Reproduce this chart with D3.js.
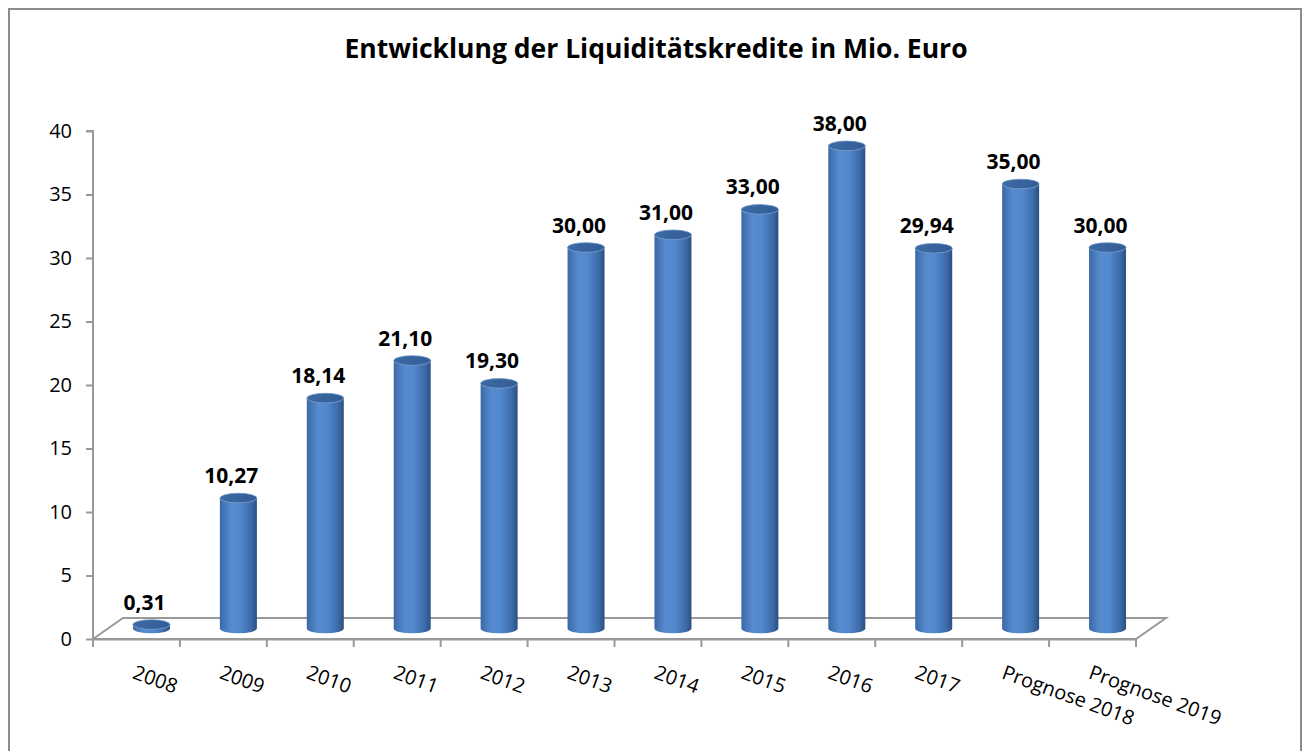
<!DOCTYPE html>
<html>
<head>
<meta charset="utf-8">
<script src="https://cdn.jsdelivr.net/npm/d3@7"></script>
<style>
  body { margin: 0; background: #fff; }
  svg { display: block; }
</style>
</head>
<body>
<div id="chart"></div>
<script>
// data
var categories = ["2008", "2009", "2010", "2011", "2012", "2013", "2014", "2015", "2016", "2017", "Prognose 2018", "Prognose 2019"];
var values = [0.31, 10.27, 18.14, 21.10, 19.30, 30.00, 31.00, 33.00, 38.00, 29.94, 35.00, 30.00];
var yTicks = [0, 5, 10, 15, 20, 25, 30, 35, 40];
var title = "Entwicklung der Liquiditätskredite in Mio. Euro";

var width = 1303;
var height = 751;

// 3d floor offset (depth of the floor)
var depthX = 30;
var depthY = -21;

var de = d3.formatLocale({ decimal: ",", thousands: ".", grouping: [3], currency: ["", " €"] });
var fmt = de.format(".2f");

var svg = d3.select("#chart")
  .append("svg")
  .attr("width", width)
  .attr("height", height);

// gradient for the cylinders
var defs = svg.append("defs");
var grad = defs.append("linearGradient")
  .attr("id", "cyl")
  .attr("x1", "0%").attr("x2", "100%")
  .attr("y1", "0%").attr("y2", "0%");
grad.append("stop").attr("offset", "0%").attr("stop-color", "#3b69a6");
grad.append("stop").attr("offset", "30%").attr("stop-color", "#578bd0");
grad.append("stop").attr("offset", "55%").attr("stop-color", "#5288cd");
grad.append("stop").attr("offset", "85%").attr("stop-color", "#3c6aa8");
grad.append("stop").attr("offset", "100%").attr("stop-color", "#2b4f80");

var topGrad = defs.append("linearGradient")
  .attr("id", "cyltop")
  .attr("x1", "0%").attr("x2", "100%")
  .attr("y1", "0%").attr("y2", "0%");
topGrad.append("stop").attr("offset", "0%").attr("stop-color", "#3d6aa5");
topGrad.append("stop").attr("offset", "100%").attr("stop-color", "#325c94");

// chart border
svg.append("rect")
  .attr("x", 9)
  .attr("y", 9)
  .attr("width", 1292)
  .attr("height", 780)
  .attr("fill", "none")
  .attr("stroke", "#8c8c8c")
  .attr("stroke-width", 2);

// title
svg.append("text")
  .attr("x", 656)
  .attr("y", 58)
  .attr("text-anchor", "middle")
  .style("font-family", "'Open Sans', sans-serif")
  .style("font-weight", "bold")
  .style("font-size", "26.5px")
  .attr("fill", "#000")
  .text(title);

var x = d3.scaleBand()
  .domain(categories)
  .range([93, 1136])
  .padding(0);

var y = d3.scaleLinear()
  .domain([0, 40])
  .range([639, 131]);

// floor
var x0 = x.range()[0], x1 = x.range()[1], y0 = y(0);
svg.append("path")
  .attr("d", "M" + x0 + "," + y0 +
             "L" + (x0 + depthX) + "," + (y0 + depthY) +
             "L" + (x1 + depthX) + "," + (y0 + depthY) +
             "L" + x1 + "," + y0 + "Z")
  .attr("fill", "#fff")
  .attr("stroke", "#999")
  .attr("stroke-width", 2);

// y axis
var yAxis = d3.axisLeft(y).tickValues(yTicks).tickSize(7).tickPadding(14);
var gy = svg.append("g")
  .attr("transform", "translate(" + x0 + ",0)")
  .call(yAxis);
gy.select(".domain").attr("stroke", "#999").attr("stroke-width", 2).attr("d", "M-7," + y(40) + "H0V" + y(0));
gy.selectAll(".tick line").attr("stroke", "#999").attr("stroke-width", 2);
gy.selectAll(".tick text")
  .style("font-family", "'Open Sans', sans-serif")
  .style("font-size", "20px")
  .attr("fill", "#000");

// x axis
var xAxis = d3.axisBottom(x).tickSize(0).tickFormat("");
var gx = svg.append("g")
  .attr("transform", "translate(0," + y0 + ")")
  .call(xAxis);
gx.select(".domain").attr("stroke", "#999").attr("stroke-width", 2);

// tick marks on category boundaries
svg.append("g")
  .selectAll("line")
  .data(categories)
  .enter()
  .append("line")
  .attr("x1", function(d) { return x(d) + x.bandwidth(); })
  .attr("x2", function(d) { return x(d) + x.bandwidth(); })
  .attr("y1", y0)
  .attr("y2", y0 + 8)
  .attr("stroke", "#999")
  .attr("stroke-width", 2);
svg.append("line")
  .attr("x1", x0).attr("x2", x0)
  .attr("y1", y0).attr("y2", y0 + 8)
  .attr("stroke", "#999").attr("stroke-width", 2);

// rotated category labels
svg.append("g")
  .selectAll("text")
  .data(categories)
  .enter()
  .append("text")
  .attr("transform", function(d) {
    return "translate(" + (x(d) + x.bandwidth() / 2 - 5) + "," + 678 + ") rotate(20)";
  })
  .attr("text-anchor", "start")
  .style("font-family", "'Open Sans', sans-serif")
  .style("font-size", "20px")
  .attr("fill", "#000")
  .text(function(d) { return d; });

// cylinders
var rx = 18.5;
var ry = 4.8;
var baseY = y0 + depthY / 2;

function cx(i) { return x(categories[i]) + x.bandwidth() / 2 + depthX / 2; }
function topY(v) { return y(v) + depthY / 2; }

var bars = svg.append("g")
  .selectAll("g")
  .data(values)
  .enter()
  .append("g");

bars.append("path")
  .attr("d", function(d, i) {
    var c = cx(i), t = topY(d);
    return "M" + (c - rx) + "," + t +
           "L" + (c - rx) + "," + baseY +
           "A" + rx + "," + ry + " 0 0 0 " + (c + rx) + "," + baseY +
           "L" + (c + rx) + "," + t +
           "A" + rx + "," + ry + " 0 0 1 " + (c - rx) + "," + t + "Z";
  })
  .attr("fill", "url(#cyl)");

bars.append("ellipse")
  .attr("cx", function(d, i) { return cx(i); })
  .attr("cy", function(d) { return topY(d); })
  .attr("rx", rx)
  .attr("ry", ry)
  .attr("fill", "url(#cyltop)")
  .attr("stroke", "#6d95cc")
  .attr("stroke-width", 0.8);

// value labels
bars.append("text")
  .attr("x", function(d, i) { return cx(i) - 7; })
  .attr("y", function(d) { return topY(d) - 15; })
  .attr("text-anchor", "middle")
  .style("font-family", "'Open Sans', sans-serif")
  .style("font-weight", "bold")
  .style("font-size", "21px")
  .attr("fill", "#000")
  .text(function(d) { return fmt(d); });
</script>
</body>
</html>
